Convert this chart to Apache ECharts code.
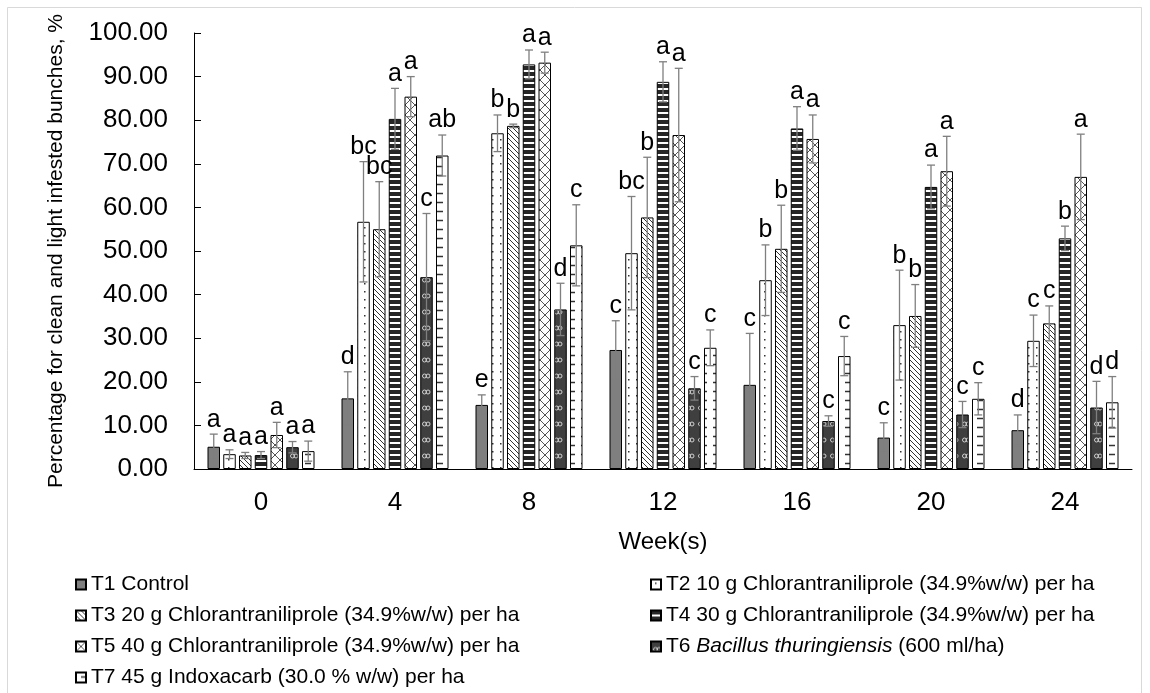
<!DOCTYPE html>
<html>
<head>
<meta charset="utf-8">
<script src="https://cdn.jsdelivr.net/npm/echarts@6/dist/echarts.min.js"></script>
<style>
html,body{margin:0;padding:0;background:#fff;}
#chart{width:1150px;height:693px;}
</style>
</head>
<body>
<div id="chart"></div>
<script>
// ---- data ----
const weeks = ['0', '4', '8', '12', '16', '20', '24'];
const seriesNames = [
  'T1 Control',
  'T2 10 g Chlorantraniliprole (34.9%w/w) per ha',
  'T3 20 g Chlorantraniliprole (34.9%w/w) per ha',
  'T4 30 g Chlorantraniliprole (34.9%w/w) per ha',
  'T5 40 g Chlorantraniliprole (34.9%w/w) per ha',
  'T6 Bacillus thuringiensis (600 ml/ha)',
  'T7 45 g Indoxacarb (30.0 % w/w) per ha'
];
const t1 = [5.1, 16.2, 14.7, 27.3, 19.3, 7.2, 8.9];
const t2 = [3.4, 56.7, 77.0, 49.5, 43.3, 33.0, 29.4];
const t3 = [3.1, 55.0, 78.7, 57.7, 50.5, 35.1, 33.4];
const t4 = [3.2, 80.3, 92.8, 88.8, 78.1, 64.7, 52.9];
const t5 = [7.8, 85.4, 93.2, 76.6, 75.7, 68.3, 67.0];
const t6 = [5.0, 44.0, 36.6, 18.5, 11.0, 12.5, 14.1];
const t7 = [4.1, 71.9, 51.3, 27.8, 25.9, 16.1, 15.3];

const e1 = [2.9, 6.1, 2.3, 6.7, 11.8, 3.4, 3.5];
const e2 = [1.0, 13.8, 4.2, 13.0, 8.1, 12.6, 5.9];
const e3 = [0.7, 10.9, 0.4, 13.8, 10.0, 7.2, 4.0];
const e4 = [0.8, 7.0, 3.3, 4.6, 5.0, 5.0, 2.8];
const e5 = [2.9, 4.6, 2.4, 15.3, 5.5, 8.0, 9.8];
const e6 = [1.3, 14.6, 6.0, 2.7, 1.2, 3.0, 6.0];
const e7 = [2.3, 4.7, 9.3, 4.1, 4.5, 3.7, 5.9];

const L1 = ['a', 'd', 'e', 'c', 'c', 'c', 'd'];
const L2 = ['a', 'bc', 'b', 'bc', 'b', 'b', 'c'];
const L3 = ['a', 'bc', 'b', 'b', 'b', 'b', 'c'];
const L4 = ['a', 'a', 'a', 'a', 'a', 'a', 'b'];
const L5 = ['a', 'a', 'a', 'a', 'a', 'a', 'a'];
const L6 = ['a', 'c', 'd', 'c', 'c', 'c', 'd'];
const L7 = ['a', 'ab', 'c', 'c', 'c', 'c', 'd'];

const yTicks = [0, 10, 20, 30, 40, 50, 60, 70, 80, 90, 100];

// ---- assembly ----
const values = [t1, t2, t3, t4, t5, t6, t7];
const errors = [e1, e2, e3, e4, e5, e6, e7];
const letters = [L1, L2, L3, L4, L5, L6, L7];

const FONT = "'Liberation Sans', Arial, sans-serif";
const BAR_W = 12.5;
const GAP = 0.26;

function makePattern(w, h, bg, draw) {
  const c = document.createElement('canvas');
  c.width = w; c.height = h;
  const ctx = c.getContext('2d');
  ctx.fillStyle = bg; ctx.fillRect(0, 0, w, h);
  draw(ctx, w, h);
  return { image: c, repeat: 'repeat' };
}
const fills = [
  '#7f7f7f',
  makePattern(8, 8, '#ffffff', (ctx) => { ctx.fillStyle = '#333'; ctx.fillRect(4, 3, 1.5, 1.5); }),
  makePattern(5, 5, '#ffffff', (ctx) => {
    ctx.strokeStyle = '#333'; ctx.lineWidth = 1;
    ctx.beginPath(); ctx.moveTo(-1, -1); ctx.lineTo(6, 6);
    ctx.moveTo(-1, 4); ctx.lineTo(1, 6); ctx.moveTo(4, -1); ctx.lineTo(6, 1); ctx.stroke();
  }),
  makePattern(6, 6, '#ffffff', (ctx) => { ctx.fillStyle = '#262626'; ctx.fillRect(0, 0, 6, 4); }),
  makePattern(10, 10, '#ffffff', (ctx) => {
    ctx.strokeStyle = '#555'; ctx.lineWidth = 1;
    ctx.beginPath(); ctx.moveTo(0, 0); ctx.lineTo(10, 10); ctx.moveTo(10, 0); ctx.lineTo(0, 10); ctx.stroke();
  }),
  makePattern(12, 16, '#3f3f3f', (ctx) => {
    ctx.strokeStyle = '#cfcfcf'; ctx.lineWidth = 1;
    ctx.beginPath(); ctx.arc(4.5, 8, 2, 0, Math.PI * 2); ctx.stroke();
    ctx.beginPath(); ctx.arc(8, 8, 2, 0, Math.PI * 2); ctx.stroke();
  }),
  makePattern(12, 9, '#ffffff', (ctx) => {
    ctx.strokeStyle = '#333'; ctx.lineWidth = 1.5;
    ctx.beginPath(); ctx.moveTo(5, 4.5); ctx.lineTo(11, 4.5); ctx.stroke();
  })
];

const barSeries = values.map((arr, i) => ({
  name: seriesNames[i],
  type: 'bar',
  data: arr,
  barWidth: BAR_W,
  barGap: (GAP * 100) + '%',
  itemStyle: { color: fills[i], borderColor: '#000', borderWidth: 1 },
  emphasis: { disabled: true },
  z: 2
}));

const errData = [];
values.forEach((arr, t) => arr.forEach((v, w) => errData.push([w, t, v, errors[t][w]])));

const errSeries = {
  type: 'custom',
  data: errData,
  encode: { x: 0, y: 2 },
  clip: false,
  z: 5,
  renderItem: function (params, api) {
    const w = api.value(0), t = api.value(1), v = api.value(2), e = api.value(3);
    const step = BAR_W * (1 + GAP);
    const off = (t - 3) * step;
    const top = api.coord([w, v + e]);
    const bot = api.coord([w, Math.max(0, v - e)]);
    const x = top[0] + off;
    const st = { stroke: '#7f7f7f', lineWidth: 1.3 };
    return {
      type: 'group',
      children: [
        { type: 'line', shape: { x1: x, y1: top[1], x2: x, y2: bot[1] }, style: st },
        { type: 'line', shape: { x1: x - 4, y1: top[1], x2: x + 4, y2: top[1] }, style: st },
        { type: 'line', shape: { x1: x - 4, y1: bot[1], x2: x + 4, y2: bot[1] }, style: st },
        { type: 'text', x: x, y: top[1] - 2,
          style: { text: letters[t][w], align: 'center', verticalAlign: 'bottom',
                   fontSize: 25, fontFamily: FONT, fill: '#000' } }
      ]
    };
  }
};

const legendText = {
  fontSize: 21, lineHeight: 21, fontFamily: FONT, color: '#000',
  rich: {
    n: { fontSize: 21, fontFamily: FONT, color: '#000' },
    i: { fontSize: 21, fontFamily: FONT, color: '#000', fontStyle: 'italic' }
  }
};
function legendFormatter(name) {
  if (name === seriesNames[5]) return '{n|T6 }{i|Bacillus thuringiensis}{n| (600 ml/ha)}';
  return name;
}

const option = {
  animation: false,
  backgroundColor: '#fff',
  grid: { left: 194, right: 18, top: 33, bottom: 224 },
  graphic: [{
    type: 'rect', silent: true, z: -1,
    shape: { x: 7.5, y: 7.5, width: 1134, height: 720 },
    style: { fill: 'none', stroke: '#d9d9d9', lineWidth: 1 }
  }],
  legend: [
    {
      data: [seriesNames[0], seriesNames[2], seriesNames[4], seriesNames[6]],
      left: 75, top: 574, height: 119, padding: 0, orient: 'vertical', icon: 'rect',
      itemWidth: 10, itemHeight: 10, itemGap: 10,
      textStyle: legendText, formatter: legendFormatter, selectedMode: false
    },
    {
      data: [seriesNames[1], seriesNames[3], seriesNames[5]],
      left: 650, top: 574, height: 119, padding: 0, orient: 'vertical', icon: 'rect',
      itemWidth: 10, itemHeight: 10, itemGap: 10,
      textStyle: legendText, formatter: legendFormatter, selectedMode: false
    }
  ],
  xAxis: {
    type: 'category',
    data: weeks,
    name: 'Week(s)',
    nameLocation: 'middle',
    nameGap: 61,
    nameTextStyle: { fontSize: 24, fontFamily: FONT, color: '#000' },
    axisLine: { lineStyle: { color: '#000', width: 1 } },
    axisTick: { inside: true, length: 7, lineStyle: { color: '#000' } },
    axisLabel: { fontSize: 26, fontFamily: FONT, color: '#000', margin: 21 }
  },
  yAxis: {
    type: 'value',
    min: yTicks[0],
    max: yTicks[yTicks.length - 1],
    interval: yTicks[1] - yTicks[0],
    name: 'Percentage for clean and light infested bunches, %',
    nameLocation: 'middle',
    nameGap: 127,
    nameTextStyle: { fontSize: 21, fontFamily: FONT, color: '#000' },
    axisLine: { show: true, lineStyle: { color: '#000', width: 1 } },
    axisTick: { show: true, inside: true, length: 7, lineStyle: { color: '#000' } },
    splitLine: { show: false },
    axisLabel: { fontSize: 26, fontFamily: FONT, color: '#000', margin: 26,
                 formatter: (v) => v.toFixed(2) }
  },
  series: barSeries.concat([errSeries])
};

const chart = echarts.init(document.getElementById('chart'), null, { renderer: 'canvas' });
chart.setOption(option);
</script>
</body>
</html>
